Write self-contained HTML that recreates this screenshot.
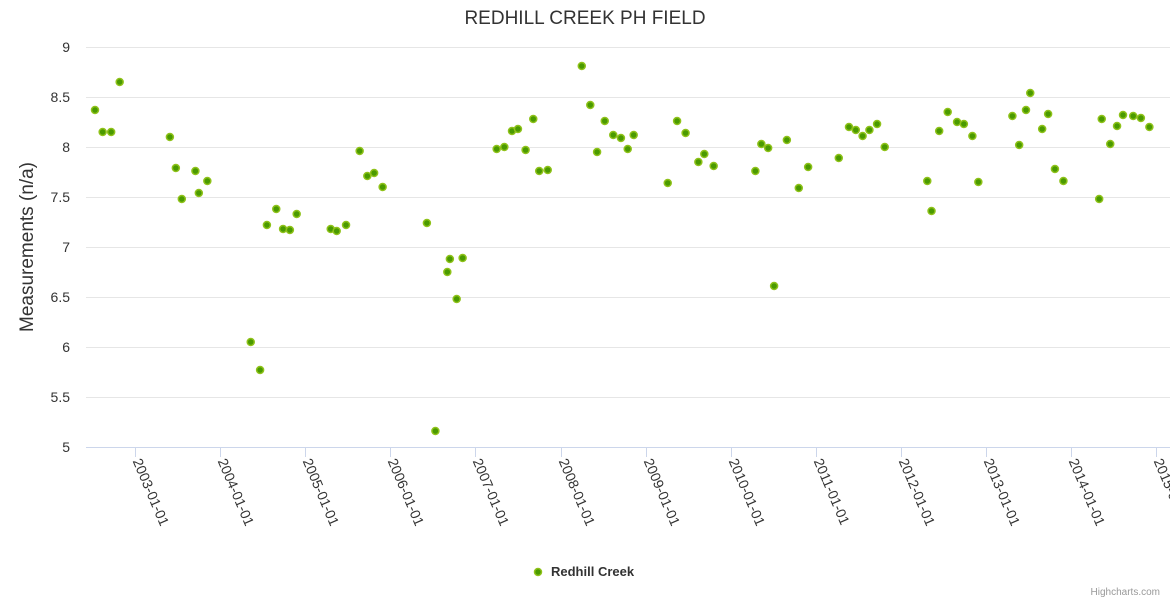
<!DOCTYPE html>
<html><head><meta charset="utf-8"><style>
html,body{margin:0;padding:0;background:#fff;}
svg{display:block;font-family:"Liberation Sans",sans-serif;}
</style></head><body>
<svg id="chart" width="1170" height="600">
<text x="585" y="24" text-anchor="middle" font-size="19" fill="#333">REDHILL CREEK PH FIELD</text>
<g id="grid"></g>
<g id="yticks"></g>
<g id="xticks"></g>
<text transform="translate(33,247) rotate(-90)" text-anchor="middle" font-size="19" fill="#333">Measurements (n/a)</text>
<g id="points"></g>
<g>
<circle cx="538" cy="572" r="3.5" fill="#4a9a00" stroke="#8fc21a" stroke-width="1.5"/>
<text x="551" y="576" font-size="13" font-weight="bold" fill="#333">Redhill Creek</text>
</g>
<text x="1160" y="595" text-anchor="end" font-size="10" fill="#999">Highcharts.com</text>
</svg>
<script>
const yTicks=[5,5.5,6,6.5,7,7.5,8,8.5,9];
const yTickLabels=["5","5.5","6","6.5","7","7.5","8","8.5","9"];
const xTickYears=[2003,2004,2005,2006,2007,2008,2009,2010,2011,2012,2013,2014,2015];
const xTickLabels=["2003-01-01","2004-01-01","2005-01-01","2006-01-01","2007-01-01","2008-01-01","2009-01-01","2010-01-01","2011-01-01","2012-01-01","2013-01-01","2014-01-01","2015-01-01"];
const dates=[2002.53,2002.62,2002.72,2002.82,2003.41,2003.48,2003.55,2003.71,2003.75,2003.85,2004.36,2004.47,2004.55,2004.66,2004.74,2004.82,2004.90,2005.30,2005.37,2005.48,2005.64,2005.73,2005.81,2005.91,2006.43,2006.53,2006.67,2006.70,2006.78,2006.85,2007.25,2007.34,2007.43,2007.50,2007.59,2007.68,2007.75,2007.85,2008.25,2008.35,2008.43,2008.52,2008.62,2008.71,2008.79,2008.86,2009.26,2009.37,2009.47,2009.62,2009.69,2009.80,2010.29,2010.36,2010.44,2010.51,2010.66,2010.80,2010.91,2011.27,2011.39,2011.47,2011.55,2011.63,2011.72,2011.81,2012.31,2012.36,2012.45,2012.55,2012.66,2012.74,2012.84,2012.91,2013.31,2013.39,2013.47,2013.52,2013.66,2013.73,2013.81,2013.91,2014.33,2014.36,2014.46,2014.54,2014.61,2014.73,2014.82,2014.92];
const values=[8.37,8.15,8.15,8.65,8.10,7.79,7.48,7.76,7.54,7.66,6.05,5.77,7.22,7.38,7.18,7.17,7.33,7.18,7.16,7.22,7.96,7.71,7.74,7.60,7.24,5.16,6.75,6.88,6.48,6.89,7.98,8.00,8.16,8.18,7.97,8.28,7.76,7.77,8.81,8.42,7.95,8.26,8.12,8.09,7.98,8.12,7.64,8.26,8.14,7.85,7.93,7.81,7.76,8.03,7.99,6.61,8.07,7.59,7.80,7.89,8.20,8.17,8.11,8.17,8.23,8.00,7.66,7.36,8.16,8.35,8.25,8.23,8.11,7.65,8.31,8.02,8.37,8.54,8.18,8.33,7.78,7.66,7.48,8.28,8.03,8.21,8.32,8.31,8.29,8.20];

const NS="http://www.w3.org/2000/svg";
const X0=86,X1=1170,Y0=447,Y1=47;
function xs(y){return 135+(y-2003)*85.1;}
function ys(v){return Y0-(v-5)*(Y0-Y1)/4;}
function mk(tag,attrs,parent){const e=document.createElementNS(NS,tag);for(const k in attrs)e.setAttribute(k,attrs[k]);parent.appendChild(e);return e;}
const grid=document.getElementById('grid'),yt=document.getElementById('yticks'),xt=document.getElementById('xticks'),pts=document.getElementById('points');
yTicks.forEach((v,i)=>{
  const l=mk('line',{x1:X0,x2:X1,y1:ys(v)+0.5,y2:ys(v)+0.5,stroke:i===0?'#ccd6eb':'#e6e6e6','stroke-width':1},grid);
  
  
  const t=mk('text',{x:70,y:ys(v)+5,'text-anchor':'end','font-size':14,fill:'#333'},yt);
  t.textContent=yTickLabels[i];
  
  
});
xTickYears.forEach((yr,i)=>{
  const x=Math.round(xs(yr))+0.5;
  const l=mk('line',{x1:x,x2:x,y1:Y0,y2:Y0+10,stroke:'#ccd6eb'},xt);
  
  
  const t=mk('text',{x:x-3,y:Y0+14,'font-size':14,fill:'#333',transform:`rotate(67 ${x-3} ${Y0+14})`},xt);
  t.textContent=xTickLabels[i];
  
  
});
dates.forEach((d,i)=>{
  const c=mk('circle',{cx:xs(d),cy:ys(values[i]),r:3.5,fill:'#4a9a00',stroke:'#8fc21a','stroke-width':1.5},pts);
  
  
});
</script>
</body></html>
